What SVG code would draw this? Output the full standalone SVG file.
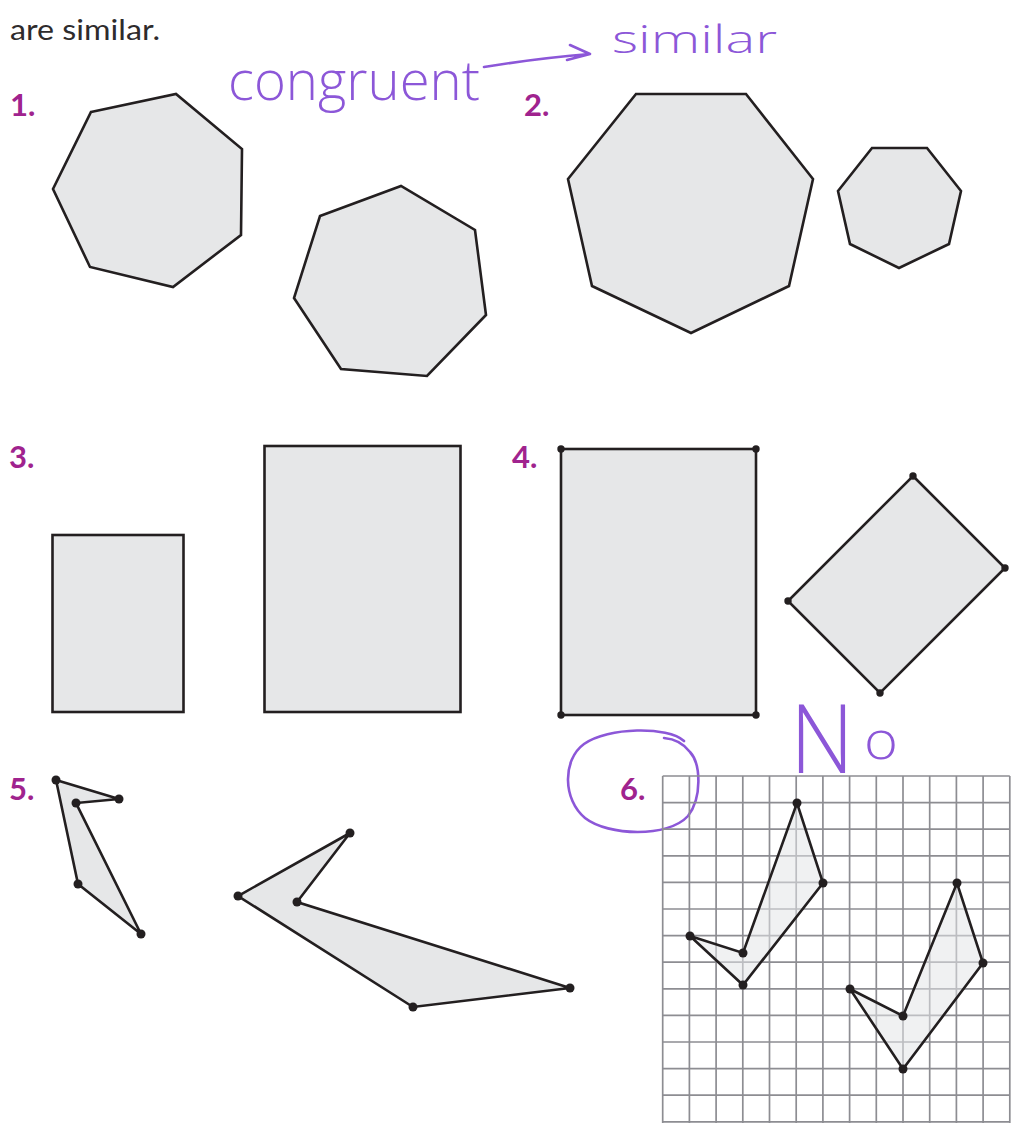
<svg xmlns="http://www.w3.org/2000/svg" width="1013" height="1123" viewBox="0 0 1013 1123">
<style>
.shape{fill:#e6e7e8;stroke:#231f20;stroke-width:2.6;stroke-linejoin:miter}
.shape6{fill:#e4e5e7;fill-opacity:0.55;stroke:#231f20;stroke-width:2.6}
.dot{fill:#231f20}
.num{font-family:Lato,"Liberation Sans",sans-serif;font-weight:700;font-size:31px;fill:#a0238e}
.body{font-family:Lato,"Liberation Sans",sans-serif;font-weight:400;font-size:29px;fill:#2e2b2c}
.hand{font-family:"Open Sans","DejaVu Sans",sans-serif;font-weight:300;fill:#8c57d8}
.ink{fill:none;stroke:#8c57d8;stroke-width:2.6;stroke-linecap:round;stroke-linejoin:round}
.grid line{stroke:#8d8d92;stroke-width:1.7}
</style>
<rect width="1013" height="1123" fill="#ffffff"/>

<g id="header">
<text class="body" x="10" y="40" textLength="150" lengthAdjust="spacingAndGlyphs">are similar.</text>
</g>

<g id="notes">
<text class="hand" x="228" y="100" font-size="56" textLength="252" lengthAdjust="spacingAndGlyphs">congruent</text>
<text class="hand" x="612" y="53" font-size="38" textLength="165" lengthAdjust="spacingAndGlyphs">similar</text>
<path class="ink" d="M484 67 Q540 58 590 54 M570 45 L590 54 L567 60"/>
<text class="hand" y="773"><tspan x="790" font-size="96" textLength="64" lengthAdjust="spacingAndGlyphs">N</tspan><tspan x="864" y="759" font-size="54" textLength="34" lengthAdjust="spacingAndGlyphs">o</tspan></text>
<path class="ink" d="M684 741 C668 726 608 727 584 744 C562 760 563 800 585 818 C608 836 668 838 688 816 C702 798 701 764 690 752 C684 744 676 739 664 738"/>
</g>

<g id="problem1">
<text class="num" x="10" y="116">1.</text>
<polygon class="shape" points="91,112 176,94 242,149 241,235 173,287 90,267 53,189"/>
<polygon class="shape" points="320,216 401,186 475,230 486,315 427,376 341,369 294,298"/>
</g>

<g id="problem2">
<text class="num" x="524" y="116">2.</text>
<polygon class="shape" points="636,94 746,94 813,179 789,286 691,333 592,286 568,179"/>
<polygon class="shape" points="872,148 927,148 961,191 949,244 899,268 850,244 838,191"/>
</g>

<g id="problem3">
<text class="num" x="9" y="468">3.</text>
<rect class="shape" x="52.5" y="535" width="131" height="177"/>
<rect class="shape" x="264.5" y="446" width="196" height="266"/>
</g>

<g id="problem4">
<text class="num" x="512" y="468">4.</text>
<rect class="shape" x="561" y="449" width="195" height="266"/>
<circle class="dot" cx="561" cy="449" r="3.7"/>
<circle class="dot" cx="756" cy="449" r="3.7"/>
<circle class="dot" cx="561" cy="715" r="3.7"/>
<circle class="dot" cx="756" cy="715" r="3.7"/>
<polygon class="shape" points="913,476 1005,568 880,693 788,601"/>
<circle class="dot" cx="913" cy="476" r="3.7"/>
<circle class="dot" cx="1005" cy="568" r="3.7"/>
<circle class="dot" cx="880" cy="693" r="3.7"/>
<circle class="dot" cx="788" cy="601" r="3.7"/>
</g>

<g id="problem5">
<text class="num" x="9" y="800">5.</text>
<polygon class="shape" points="56,780 119,799 76,803 141,934 78,884"/>
<circle class="dot" cx="56" cy="780" r="4.5"/>
<circle class="dot" cx="119" cy="799" r="4.5"/>
<circle class="dot" cx="76" cy="803" r="4.5"/>
<circle class="dot" cx="141" cy="934" r="4.5"/>
<circle class="dot" cx="78" cy="884" r="4.5"/>
<polygon class="shape" points="350,833 238,896 413,1007 570,988 297,902"/>
<circle class="dot" cx="350" cy="833" r="4.5"/>
<circle class="dot" cx="238" cy="896" r="4.5"/>
<circle class="dot" cx="413" cy="1007" r="4.5"/>
<circle class="dot" cx="570" cy="988" r="4.5"/>
<circle class="dot" cx="297" cy="902" r="4.5"/>
</g>

<g id="problem6">
<text class="num" x="620" y="800">6.</text>
<g class="grid">
<line x1="662.7" y1="776" x2="662.7" y2="1123"/>
<line x1="689.4" y1="776" x2="689.4" y2="1123"/>
<line x1="716.1" y1="776" x2="716.1" y2="1123"/>
<line x1="742.8" y1="776" x2="742.8" y2="1123"/>
<line x1="769.5" y1="776" x2="769.5" y2="1123"/>
<line x1="796.2" y1="776" x2="796.2" y2="1123"/>
<line x1="822.9" y1="776" x2="822.9" y2="1123"/>
<line x1="849.6" y1="776" x2="849.6" y2="1123"/>
<line x1="876.3" y1="776" x2="876.3" y2="1123"/>
<line x1="903.0" y1="776" x2="903.0" y2="1123"/>
<line x1="929.7" y1="776" x2="929.7" y2="1123"/>
<line x1="956.4" y1="776" x2="956.4" y2="1123"/>
<line x1="983.1" y1="776" x2="983.1" y2="1123"/>
<line x1="1009.8" y1="776" x2="1009.8" y2="1123"/>
<line x1="662.7" y1="776.0" x2="1009.8" y2="776.0"/>
<line x1="662.7" y1="802.6" x2="1009.8" y2="802.6"/>
<line x1="662.7" y1="829.2" x2="1009.8" y2="829.2"/>
<line x1="662.7" y1="855.8" x2="1009.8" y2="855.8"/>
<line x1="662.7" y1="882.4" x2="1009.8" y2="882.4"/>
<line x1="662.7" y1="909.0" x2="1009.8" y2="909.0"/>
<line x1="662.7" y1="935.6" x2="1009.8" y2="935.6"/>
<line x1="662.7" y1="962.2" x2="1009.8" y2="962.2"/>
<line x1="662.7" y1="988.8" x2="1009.8" y2="988.8"/>
<line x1="662.7" y1="1015.4" x2="1009.8" y2="1015.4"/>
<line x1="662.7" y1="1042.0" x2="1009.8" y2="1042.0"/>
<line x1="662.7" y1="1068.6" x2="1009.8" y2="1068.6"/>
<line x1="662.7" y1="1095.2" x2="1009.8" y2="1095.2"/>
<line x1="662.7" y1="1121.8" x2="1009.8" y2="1121.8"/>
</g>
<polygon class="shape6" points="690,936 743,953 797,803 823,883 743,985"/>
<circle class="dot" cx="690" cy="936" r="4.5"/>
<circle class="dot" cx="743" cy="953" r="4.5"/>
<circle class="dot" cx="797" cy="803" r="4.5"/>
<circle class="dot" cx="823" cy="883" r="4.5"/>
<circle class="dot" cx="743" cy="985" r="4.5"/>
<polygon class="shape6" points="850,989 903,1016 957,883 983,963 903,1069"/>
<circle class="dot" cx="850" cy="989" r="4.5"/>
<circle class="dot" cx="903" cy="1016" r="4.5"/>
<circle class="dot" cx="957" cy="883" r="4.5"/>
<circle class="dot" cx="983" cy="963" r="4.5"/>
<circle class="dot" cx="903" cy="1069" r="4.5"/>
</g>
</svg>
